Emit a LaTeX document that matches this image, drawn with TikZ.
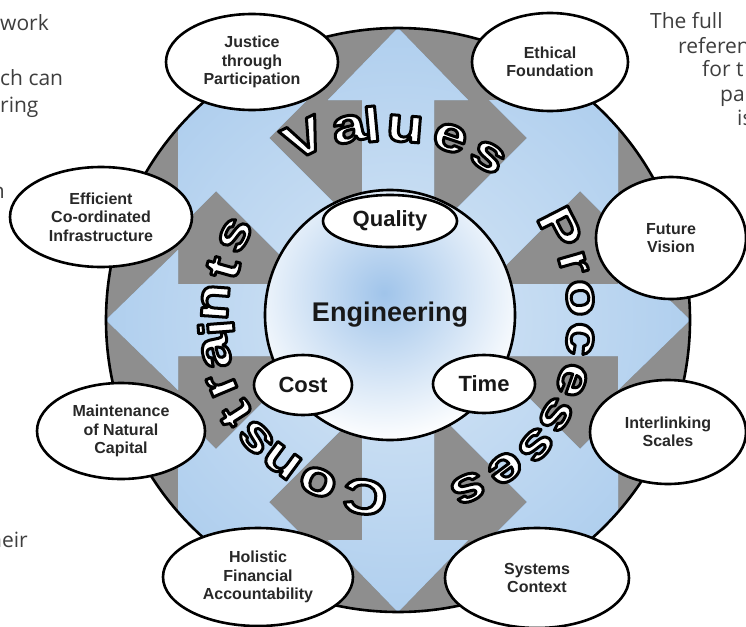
\documentclass[tikz,border=0pt]{standalone}
\usepackage{fontspec}
\setmainfont{Liberation Sans}
\newfontfamily\sidefont{Open Sans}
\newfontfamily\arcfont{Liberation Sans}[FakeStretch=1.25]
\usetikzlibrary{shapes.geometric}

\definecolor{discgray}{RGB}{142,142,142}
\definecolor{arrowblue}{RGB}{138,184,230}
\definecolor{arrowpale}{RGB}{214,230,246}
\definecolor{engblue}{RGB}{160,196,234}
\definecolor{labelink}{RGB}{40,40,40}
\definecolor{coreink}{RGB}{24,24,24}
\definecolor{sideink}{RGB}{62,62,62}

% white letter with a black rim (fill + stroke text rendering)
\newcommand\hollow[1]{\textcolor{white}{%
  \special{pdf:literal direct 0 G 3 w 1 j 2 Tr}#1\special{pdf:literal direct 0 Tr}}}

\tikzset{
  outeroval/.style={ellipse, draw=black, line width=2.6pt, fill=white,
    inner sep=0pt, align=center, text=labelink,
    font=\bfseries\fontsize{16}{18.5}\selectfont},
  inneroval/.style={ellipse, draw=black, line width=2.6pt, fill=white,
    inner sep=0pt, text=coreink, font=\bfseries\fontsize{22}{24}\selectfont},
  ringletter/.style={inner sep=0pt, font=\arcfont\bfseries\fontsize{49}{49}\selectfont},
  sidetext/.style={inner sep=0pt, text=sideink, font=\sidefont\fontsize{21}{24}\selectfont},
  bluearrow/.style={fill=arrowblue,
    path picture={\shade[inner color=arrowpale, outer color=arrowblue] (O) circle (584);}},
}

\begin{document}
\begin{tikzpicture}[x=1pt, y=-1pt]
\useasboundingbox (0,0) rectangle (746,626);
\fill[white] (0,0) rectangle (746,626);

\coordinate (O) at (398,320);

% grey disc with the eight light-blue arrows
\fill[discgray] (O) circle (292);
\begin{scope}
  \clip (O) circle (292);
  \foreach \a in {0,90,180,270}{
    \path[bluearrow, shift={(O)}, rotate=\a]
      (-36,0) -- (-36,-220) -- (-70,-220) -- (0,-292) -- (70,-220) -- (36,-220) -- (36,0) -- cycle;
    \path[bluearrow, shift={(O)}, rotate=\a]
      (30,-23) -- (-129,-182) -- (-91,-220) -- (-220,-220) -- (-220,-91) -- (-182,-129) -- (-23,30) -- cycle;
  }
\end{scope}
\draw[line width=2.6pt] (O) circle (292);

% central hub
\node[circle, draw=black, line width=2.6pt, minimum size=250pt, inner sep=0pt, fill=white,
      path picture={\shade[inner color=engblue, outer color=white]
        ([shift={(-6,-22)}]path picture bounding box.center) circle (150);},
      text=coreink, font=\bfseries\fontsize{27}{30}\selectfont] (eng) at (390,315) {Engineering};

\node[inneroval, minimum width=134pt, minimum height=52pt] (quality) at (390,221) {Quality};
\node[inneroval, minimum width=98pt, minimum height=60pt] (cost) at (303,385) {Cost};
\node[inneroval, minimum width=102pt, minimum height=58pt] (time) at (484,384) {Time};

% outer ring of principles
\node[outeroval, minimum width=172pt, minimum height=96pt] (justice) at (252,62) {Justice\\through\\Participation};
\node[outeroval, minimum width=156pt, minimum height=98pt] (ethical) at (550,62) {Ethical\\Foundation};
\node[outeroval, minimum width=182pt, minimum height=100pt] (efficient) at (101,217) {Efficient\\Co-ordinated\\Infrastructure};
\node[outeroval, minimum width=150pt, minimum height=122pt] (future) at (671,238) {Future\\Vision};
\node[outeroval, minimum width=168pt, minimum height=96pt] (maintenance) at (121,431) {Maintenance\\of Natural\\Capital};
\node[outeroval, minimum width=156pt, minimum height=104pt] (interlinking) at (668,432) {Interlinking\\Scales};
\node[outeroval, minimum width=190pt, minimum height=98pt] (holistic) at (258,577) {Holistic\\Financial\\Accountability};
\node[outeroval, minimum width=184pt, minimum height=100pt] (systems) at (537,578) {Systems\\Context};

% lettering around the hub
\foreach \x/\y/\r/\c [count=\k] in {304/138/25.9/V, 349/129/12.4/a, 372/124/5.4/l,
    405/129/-4.6/u, 450/138/-18.7/e, 488/157/-31.8/s}
  \node[ringletter, rotate=\r] (val\k) at (\x,\y) {\hollow{\c}};
\foreach \x/\y/\r/\c [count=\k] in {560/228/-62.9/P, 573/263/-74.1/r, 580/298/-84.9/o,
    580/339/-97.2/c, 572/380/-109.7/e, 556/415/-121.1/s, 536/445/-131.7/s,
    505/468/-143.1/e, 468/488/-155.7/s}
  \node[ringletter, rotate=\r] (proc\k) at (\x,\y) {\hollow{\c}};
\foreach \x/\y/\r/\c [count=\k] in {365/497/172.2/C, 318/482/156.7/o, 282/461/143.5/n,
    256/438/132.5/s, 236/414/122.7/t, 222/385/112.6/r, 216/352/102/a, 216/328/94.3/i,
    215/302/85.8/n, 223/268/74.3/t, 235/235/62.7/s}
  \node[ringletter, rotate=\r] (cons\k) at (\x,\y) {\hollow{\c}};

% surrounding body text
\node[sidetext, anchor=base west] (l1) at (0,31) {work};
\node[sidetext, anchor=base west] (l2) at (0,85) {ch can};
\node[sidetext, anchor=base west] (l3) at (0,112) {ring};
\node[sidetext, anchor=base east] (l4) at (5,198) {n};
\node[sidetext, anchor=base east] (l5) at (28,547) {heir};
\node[sidetext, anchor=base west] (r1) at (650,29) {The full};
\node[sidetext, anchor=base west] (r2) at (678,53) {referen};
\node[sidetext, anchor=base west] (r3) at (702,77) {for t};
\node[sidetext, anchor=base west] (r4) at (720,101) {pa};
\node[sidetext, anchor=base west] (r5) at (737,125) {is};
\end{tikzpicture}
\end{document}
